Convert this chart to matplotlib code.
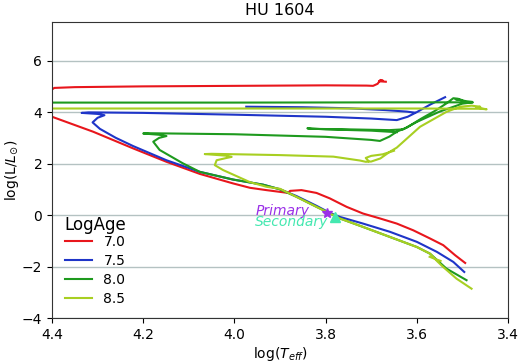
import numpy as np
import matplotlib
matplotlib.use("Agg")
import matplotlib.pyplot as plt

nan = np.nan

# isochrones, log(Teff) / log(L/Lsun); nan splits the pieces
logT_70 = [3.494, 3.516, 3.542, 3.571, 3.608, 3.644, 3.681, 3.718, 3.754, 3.791, 3.82,
           3.853, 3.878, 3.882, 3.93, 3.966, 4.003, 4.076, 4.149, 4.222, 4.31, 4.40, 4.46,
           nan,
           4.46, 4.40, 4.395, 4.35, 4.20, 4.00, 3.80, 3.71, 3.696, 3.686, 3.680, 3.674, 3.683, 3.668]
logL_70 = [-1.86, -1.56, -1.17, -0.91, -0.59, -0.33, -0.13, 0.06, 0.32, 0.65, 0.86,
           0.97, 0.94, 0.86, 0.97, 1.06, 1.23, 1.60, 2.07, 2.59, 3.24, 3.82, 4.2,
           nan,
           4.86, 4.88, 4.94, 4.97, 5.00, 5.02, 5.04, 5.03, 5.02, 5.10, 5.25, 5.22, 5.20, 5.18]

logT_75 = [3.496, 3.52, 3.556, 3.60, 3.659, 3.718, 3.769, 3.79, 3.82, 3.864, 3.90, 3.937,
           4.003, 4.076, 4.149, 4.222, 4.26, 4.295, 4.311, 4.30, 4.285, 4.30, 4.335, 4.32,
           4.20, 4.00, 3.80, 3.70, 3.644, 3.62, 3.60, 3.57, 3.538,
           nan,
           3.974, 3.85, 3.75, 3.67, 3.622, 3.605]
logL_75 = [-2.21, -1.82, -1.43, -1.04, -0.65, -0.33, -0.07, 0.08, 0.36, 0.74, 1.00, 1.18,
           1.38, 1.68, 2.13, 2.68, 3.00, 3.35, 3.60, 3.78, 3.88, 3.93, 3.97, 3.99,
           3.97, 3.90, 3.82, 3.75, 3.69, 3.82, 4.00, 4.30, 4.58,
           nan,
           4.21, 4.19, 4.15, 4.08, 4.02, 3.98]

logT_80 = [3.491, 3.535, 3.571, 3.60, 3.659, 3.718, 3.769, 3.79, 3.82, 3.864, 3.90, 3.937,
           4.003, 4.076, 4.113, 4.164, 4.178, 4.165, 4.149, 4.165, 4.20, 4.19, 4.00, 3.80,
           3.70, 3.681, 3.66, 3.644, 3.622, 3.59, 3.56, 3.535, 3.52, 3.51, 3.50, 3.515, 3.49,
           3.48,
           nan,
           3.644, 3.70, 3.80, 3.84, 3.83, 3.75, 3.66, 3.63, 3.60, 3.55, 3.50, 3.477, 3.60,
           4.00, 4.46]
logL_80 = [-2.53, -2.08, -1.50, -1.24, -0.85, -0.46, -0.13, 0.06, 0.32, 0.71, 1.00, 1.18,
           1.38, 1.68, 2.01, 2.53, 2.85, 3.00, 3.07, 3.12, 3.17, 3.18, 3.14, 3.04,
           2.92, 2.88, 3.05, 3.24, 3.40, 3.75, 4.05, 4.34, 4.54, 4.52, 4.46, 4.50, 4.42,
           4.40,
           nan,
           3.22, 3.28, 3.33, 3.37, 3.35, 3.33, 3.30, 3.33, 3.62, 4.02, 4.33, 4.38, 4.38,
           4.37, 4.37]

logT_85 = [3.48, 3.513, 3.542, 3.555, 3.571, 3.60, 3.659, 3.718, 3.769, 3.79, 3.82, 3.864,
           3.90, 3.93, 3.966, 4.025, 4.043, 4.039, 4.017, 4.006, 4.02, 4.065, 4.05, 3.90,
           3.783, 3.725, 3.712, 3.70, 3.68, 3.66, 3.644, 3.593, 3.535, 3.505, 3.48, 3.461,
           3.47, 3.447, 3.46, 3.60, 4.46,
           nan,
           3.706, 3.712, 3.70, 3.675, 3.65,
           nan,
           3.572, 3.558, 3.548]
logL_85 = [-2.86, -2.47, -2.02, -1.80, -1.50, -1.24, -0.85, -0.46, -0.13, 0.06, 0.32, 0.71,
           1.02, 1.10, 1.28, 1.75, 1.94, 2.13, 2.22, 2.26, 2.31, 2.37, 2.38, 2.33,
           2.27, 2.12, 2.07, 2.08, 2.20, 2.45, 2.62, 3.43, 4.01, 4.21, 4.25, 4.21,
           4.18, 4.11, 4.13, 4.14, 4.14,
           nan,
           2.10, 2.22, 2.30, 2.36, 2.50,
           nan,
           -1.62, -1.72, -1.78]

ages = ["7.0", "7.5", "8.0", "8.5"]
colors = ["#e8161c", "#1f35c8", "#1e9a1e", "#a8cf22"]

prim_T, prim_L = 3.798, 0.09
sec_T, sec_L = 3.780, -0.07

fig = plt.figure(figsize=(5.2, 3.61), dpi=100)
ax = fig.add_axes([0.10, 0.119, 0.877, 0.82])

tracks = [(logT_70, logL_70), (logT_75, logL_75), (logT_80, logL_80), (logT_85, logL_85)]
for (t, l), age, c in zip(tracks, ages, colors):
    ax.plot(t, l, color=c, lw=1.5, label=age)

ax.plot(prim_T, prim_L, marker="*", color="#9b30e8", ms=7, ls="none")
ax.plot(sec_T, sec_L, marker="^", color="#44e8b0", ms=7, ls="none")
ax.text(3.834, 0.0, "Primary", color="#9b30e8", style="italic", fontsize=10, ha="right")
ax.text(3.795, -0.43, "Secondary", color="#44e8b0", style="italic", fontsize=10, ha="right")

ax.set_xlim(4.4, 3.4)
ax.set_ylim(-4, 7.5)
ax.set_xticks([4.4, 4.2, 4.0, 3.8, 3.6, 3.4])
ax.set_yticks([-4, -2, 0, 2, 4, 6])
ax.yaxis.grid(True, color="#b4c2c2", lw=1)
ax.set_axisbelow(True)
for s in ax.spines.values():
    s.set_color("#333333")
ax.tick_params(labelsize=10)
ax.set_xlabel(r"log($T_{eff}$)", fontsize=10, labelpad=2)
ax.set_ylabel(r"log(L/$L_{\odot}$)", fontsize=10, labelpad=1)
ax.set_title("HU 1604", fontsize=11.5, pad=5)

leg = ax.legend(title="LogAge", loc="lower left", frameon=False, fontsize=10,
                title_fontsize=12, labelspacing=0.35, borderaxespad=0.5)
leg._legend_box.align = "left"
leg._legend_box.sep = 1

fig.savefig("out.png", dpi=100)
